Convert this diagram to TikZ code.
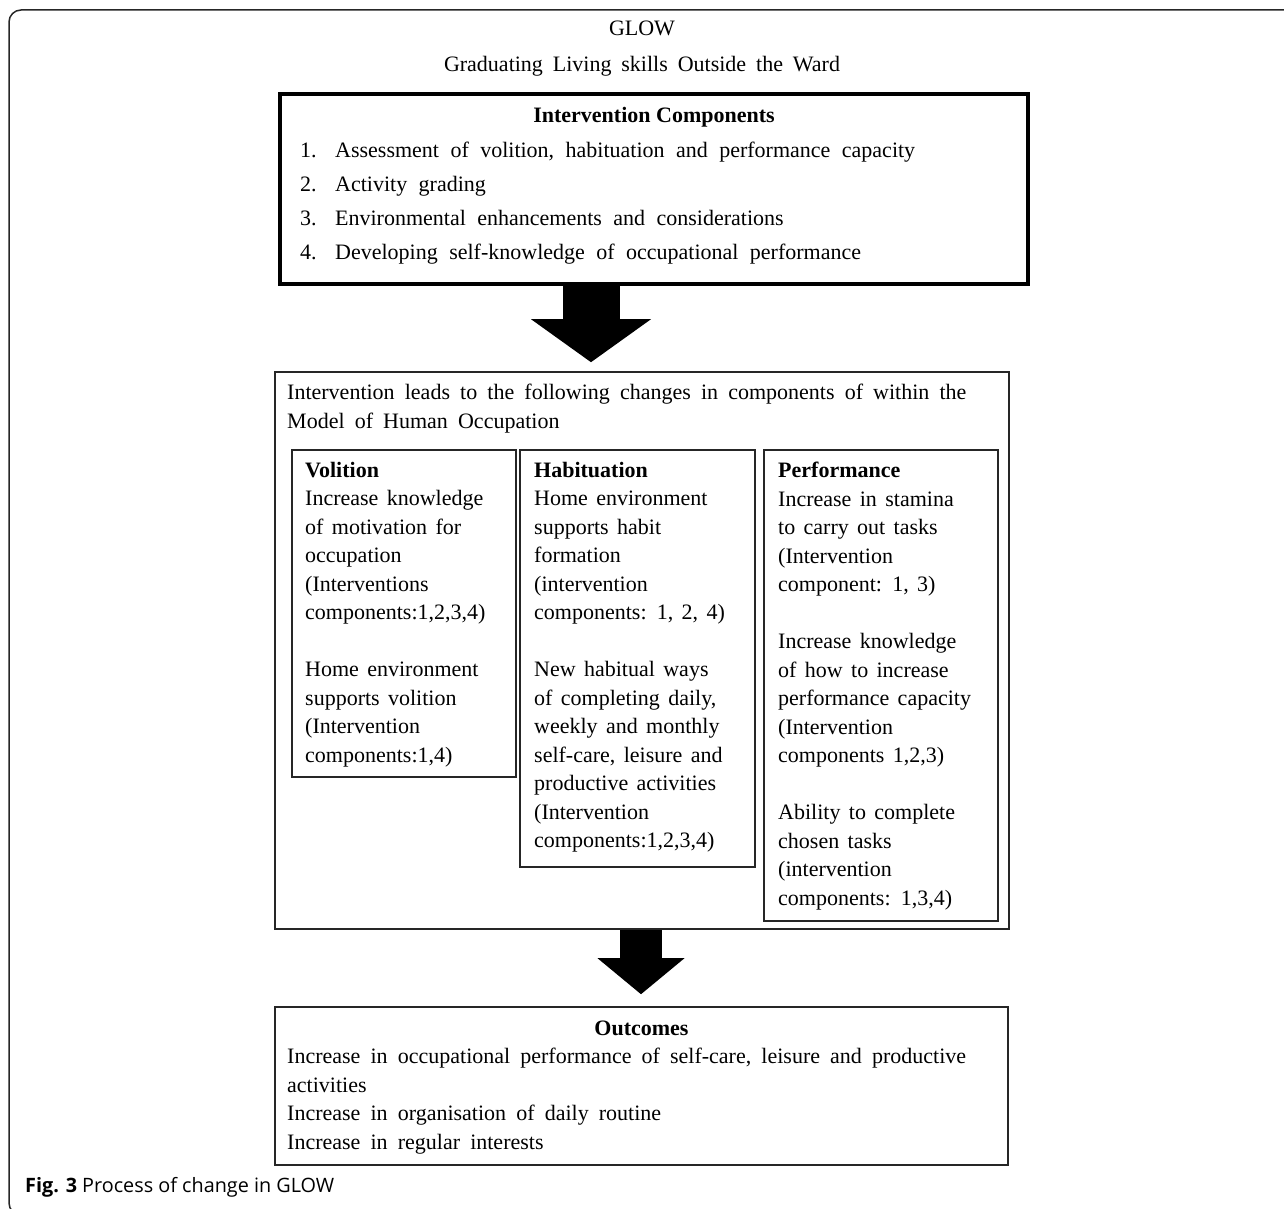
\documentclass[tikz,border=0pt]{standalone}
\usepackage{fontspec}
\setmainfont{Liberation Serif}
\newfontfamily\capfont{Open Sans}
\usetikzlibrary{arrows.meta, positioning, calc}
\tikzstyle{framebox} = [draw=black!85, line width=1.5pt, rounded corners=12pt]
\tikzstyle{compbox} = [rectangle, draw=black, line width=4pt, minimum width=748pt, minimum height=190pt, inner sep=0pt]
\tikzstyle{outerbox} = [rectangle, draw=black!85, line width=1.6pt, inner sep=0pt]
\tikzstyle{areabox} = [rectangle, draw=black!85, line width=1.4pt, inner sep=0pt]
\tikzstyle{titletext} = [inner sep=0pt, font={\fontsize{22}{28}\selectfont\spaceskip=0.45em\relax}]
\tikzstyle{headtext} = [inner sep=0pt, font=\fontsize{22}{28}\selectfont\bfseries]
\tikzstyle{boxtext} = [anchor=north west, inner sep=0pt, align=left, font={\fontsize{22}{28.5}\selectfont\spaceskip=0.38em\relax}]
\tikzstyle{widetext} = [anchor=north west, inner sep=0pt, align=left, font={\fontsize{22}{28.5}\selectfont\spaceskip=0.46em\relax}]
\tikzstyle{listtext} = [anchor=north west, inner sep=0pt, align=left, font={\fontsize{22}{34}\selectfont\spaceskip=0.52em\relax}]
\tikzstyle{captext} = [inner sep=0pt, font=\capfont\fontsize{19.8}{24}\selectfont]
\tikzstyle{bigarrow} = [line width=57pt, -{Triangle[length=43pt, width=120pt, line width=0pt]}]
\tikzstyle{smallarrow} = [line width=42pt, -{Triangle[length=36pt, width=87pt, line width=0pt]}]
\begin{document}
\begin{tikzpicture}[x=1pt, y=-1pt]
    \useasboundingbox (0,0) rectangle (1284,1209);
    % Frame
    \begin{scope}
        \clip (0,0) rectangle (1284,1209);
        \draw[framebox] (1300,10) -- (9,10) -- (9,1215) -- (1300,1215);
    \end{scope}

    % Title
    \node[titletext] (glow) at (642,28) {GLOW};
    \node[titletext] (fullname) at (642,66) {Graduating Living skills Outside the Ward};

    % Intervention components
    \node[compbox] (comp) at (654,189) {};
    \node[headtext] (comphead) at (654,117) {Intervention Components};
    \node[listtext] (complist) at (300,142) {\makebox[35pt][l]{1.}Assessment of volition, habituation and performance capacity\\
        \makebox[35pt][l]{2.}Activity grading\\
        \makebox[35pt][l]{3.}Environmental enhancements and considerations\\
        \makebox[35pt][l]{4.}Developing self-knowledge of occupational performance};

    % Model of Human Occupation
    \node[outerbox, minimum width=734pt, minimum height=557pt] (moho) at (642,650.5) {};
    \node[widetext] (mohotext) at (287,384) {Intervention leads to the following changes in components of within the\\Model of Human Occupation};

    % Volition
    \node[areabox, minimum width=224pt, minimum height=327pt] (volition) at (404,613.5) {};
    \node[boxtext] (voltext) at (305,462) {\textbf{Volition}\\Increase knowledge\\of motivation for\\occupation\\(Interventions\\components:1,2,3,4)\\[28.5pt]
        Home environment\\supports volition\\(Intervention\\components:1,4)};

    % Habituation
    \node[areabox, minimum width=235pt, minimum height=417pt] (habituation) at (637.5,658.5) {};
    \node[boxtext] (habtext) at (534,462) {\textbf{Habituation}\\Home environment\\supports habit\\formation\\(intervention\\components: 1, 2, 4)\\[28.5pt]
        New habitual ways\\of completing daily,\\weekly and monthly\\self-care, leisure and\\productive activities\\(Intervention\\components:1,2,3,4)};

    % Performance
    \node[areabox, minimum width=234pt, minimum height=471pt] (performance) at (881,685.5) {};
    \node[boxtext] (perftext) at (778,462) {\textbf{Performance}\\Increase in stamina\\to carry out tasks\\(Intervention\\component: 1, 3)\\[28.5pt]
        Increase knowledge\\of how to increase\\performance capacity\\(Intervention\\components 1,2,3)\\[28.5pt]
        Ability to complete\\chosen tasks\\(intervention\\components: 1,3,4)};

    % Outcomes
    \node[outerbox, minimum width=733pt, minimum height=158pt] (outc) at (641.5,1086) {};
    \node[headtext] (outchead) at (641.5,1028) {Outcomes};
    \node[widetext] (outctext) at (287,1048) {Increase in occupational performance of self-care, leisure and productive\\activities\\Increase in organisation of daily routine\\Increase in regular interests};

    % Arrows
    \coordinate (arrowA) at (591,0);
    \coordinate (arrowB) at (641,0);
    \draw[bigarrow] (comp.south -| arrowA) -- ($(moho.north -| arrowA)+(0,-9)$);
    \draw[smallarrow] (moho.south -| arrowB) -- ($(outc.north -| arrowB)+(0,-12)$);

    % Caption
    \node[captext, anchor=west] (caption) at (25,1187) {\textbf{Fig. 3} Process of change in GLOW};
\end{tikzpicture}
\end{document}
